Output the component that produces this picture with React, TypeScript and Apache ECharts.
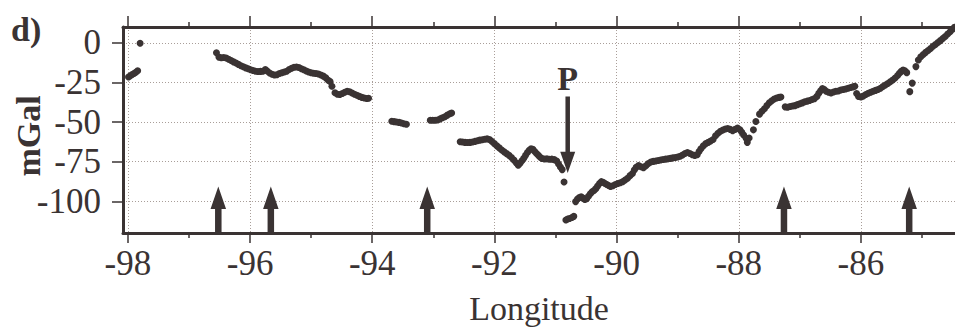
import React, { useEffect, useRef } from "react";
import * as echarts from "echarts";

// ---- tick values ----
const xMajorTicks = [-98, -96, -94, -92, -90, -88, -86];
const xMinorTicks = [-97, -95, -93, -91, -89, -87, -85];
const yTicks = [0, -25, -50, -75, -100];

// ---- gravity anomaly profile [longitude, mGal] ----
const segWestEdge: [number, number][] = [
  [-97.99, -21.6], [-97.96, -20.8], [-97.93, -20.0], [-97.9, -19.4], [-97.87, -18.6], [-97.84, -17.6],
  [-97.8, -0.3],
];

const segKansas: [number, number][] = [
  [-96.55, -6.3], [-96.51, -9.0], [-96.47, -9.4], [-96.43, -9.2], [-96.39, -9.6], [-96.35, -10.3],
  [-96.31, -11.2], [-96.27, -12.0], [-96.23, -12.7], [-96.19, -13.6], [-96.15, -14.5], [-96.11, -15.1],
  [-96.07, -15.8], [-96.03, -16.4], [-95.99, -17.0], [-95.95, -17.4], [-95.91, -17.9], [-95.87, -18.1],
  [-95.83, -18.0], [-95.79, -17.9], [-95.75, -16.9], [-95.72, -17.8], [-95.68, -19.0], [-95.64, -19.8],
  [-95.6, -20.3], [-95.56, -20.1], [-95.52, -19.4], [-95.48, -18.9], [-95.44, -18.4], [-95.4, -17.9],
  [-95.36, -16.8], [-95.32, -16.0], [-95.28, -15.4], [-95.24, -15.2], [-95.2, -15.6], [-95.16, -16.3],
  [-95.12, -17.0], [-95.08, -17.8], [-95.04, -18.4], [-95.0, -18.9], [-94.96, -19.2], [-94.92, -19.4],
  [-94.88, -19.7], [-94.84, -20.3], [-94.8, -21.0], [-94.76, -22.1], [-94.72, -23.6], [-94.69, -24.4],
  [-94.66, -27.4], [-94.61, -31.5], [-94.57, -32.4], [-94.53, -32.6], [-94.49, -32.0], [-94.45, -31.2],
  [-94.41, -30.6], [-94.37, -30.9], [-94.33, -31.7], [-94.29, -32.4], [-94.25, -33.1], [-94.21, -33.8],
  [-94.17, -34.4], [-94.13, -34.8], [-94.09, -35.1], [-94.06, -35.0],
];

const segMissouri: [number, number][] = [
  [-93.68, -49.5], [-93.64, -49.7], [-93.6, -49.9], [-93.56, -50.2], [-93.52, -50.6], [-93.48, -51.0],
  [-93.44, -51.4],
  [-93.05, -48.8], [-93.01, -48.8], [-92.97, -48.9], [-92.93, -48.7], [-92.89, -48.0], [-92.85, -47.3],
  [-92.81, -46.6], [-92.77, -45.6], [-92.73, -44.8], [-92.7, -44.3],
];

const segTrough: [number, number][] = [
  [-92.56, -62.4], [-92.52, -62.6], [-92.48, -62.8], [-92.44, -62.9], [-92.4, -62.8], [-92.36, -62.6],
  [-92.32, -62.2], [-92.28, -61.8], [-92.24, -61.4], [-92.2, -61.1], [-92.16, -60.8], [-92.12, -60.6],
  [-92.08, -61.0], [-92.04, -62.2], [-92.0, -63.6], [-91.96, -65.0], [-91.92, -66.3], [-91.88, -67.6],
  [-91.84, -68.8], [-91.8, -69.9], [-91.76, -71.0], [-91.72, -72.4], [-91.68, -74.0], [-91.64, -75.8],
  [-91.61, -77.2], [-91.58, -76.0], [-91.55, -74.4], [-91.52, -72.8], [-91.49, -71.0], [-91.46, -69.2],
  [-91.43, -67.8], [-91.4, -66.8], [-91.37, -67.2], [-91.34, -68.6], [-91.31, -69.8], [-91.28, -71.0],
  [-91.25, -72.2], [-91.22, -73.0], [-91.18, -73.3], [-91.14, -73.2], [-91.1, -73.5], [-91.06, -73.4],
  [-91.02, -73.7], [-90.98, -74.6], [-90.95, -76.4], [-90.92, -78.3], [-90.89, -80.0],
  [-90.86, -87.8],
  [-90.83, -111.8], [-90.8, -111.2], [-90.77, -110.8], [-90.73, -110.2], [-90.7, -109.5],
];

const segIllinois: [number, number][] = [
  [-90.67, -100.2], [-90.64, -98.6], [-90.61, -97.6], [-90.58, -97.2], [-90.55, -98.0], [-90.52, -98.8],
  [-90.49, -98.4], [-90.46, -96.8], [-90.43, -95.2], [-90.4, -94.0], [-90.37, -93.2], [-90.34, -92.0],
  [-90.31, -90.4], [-90.28, -88.8], [-90.25, -87.6], [-90.22, -88.0], [-90.19, -88.8], [-90.16, -89.4],
  [-90.13, -90.0], [-90.1, -90.6], [-90.06, -90.2], [-90.02, -89.4], [-89.98, -88.8], [-89.94, -88.3],
  [-89.9, -87.6], [-89.86, -86.6], [-89.82, -85.4], [-89.78, -83.8], [-89.74, -82.4], [-89.71, -80.2],
  [-89.68, -78.6], [-89.64, -77.4], [-89.6, -78.2], [-89.56, -78.8], [-89.52, -77.6], [-89.48, -76.2],
  [-89.44, -75.2], [-89.4, -74.8], [-89.36, -74.6], [-89.32, -74.2], [-89.28, -73.9], [-89.24, -73.6],
  [-89.2, -73.4], [-89.16, -73.2], [-89.12, -72.9], [-89.08, -72.6], [-89.04, -72.3], [-89.0, -72.0],
  [-88.96, -71.6], [-88.92, -70.8], [-88.88, -69.8], [-88.84, -69.2], [-88.8, -69.8], [-88.76, -70.6],
  [-88.72, -71.0], [-88.68, -70.6], [-88.65, -68.6], [-88.62, -66.8], [-88.58, -65.0], [-88.54, -63.6],
  [-88.5, -62.8], [-88.46, -62.0], [-88.42, -61.0], [-88.38, -58.6], [-88.34, -57.0], [-88.3, -55.8],
  [-88.26, -55.0], [-88.22, -54.4], [-88.18, -54.0], [-88.14, -54.6], [-88.1, -55.4], [-88.06, -54.6],
  [-88.02, -53.8], [-87.98, -54.8], [-87.95, -56.4], [-87.92, -58.2], [-87.88, -60.2], [-87.86, -62.8],
  [-87.83, -60.0],
  [-87.76, -54.9], [-87.72, -49.6],
  [-87.66, -45.0], [-87.62, -43.2], [-87.58, -41.6], [-87.54, -39.6], [-87.5, -37.8], [-87.46, -36.6],
  [-87.42, -35.4], [-87.38, -34.8], [-87.34, -34.4], [-87.31, -34.2],
];

const segIndiana: [number, number][] = [
  [-87.24, -40.4], [-87.2, -40.6], [-87.16, -40.2], [-87.12, -39.9], [-87.08, -39.6], [-87.04, -39.0],
  [-87.0, -38.4], [-86.96, -37.9], [-86.92, -37.2], [-86.88, -36.8], [-86.84, -36.4], [-86.8, -35.8],
  [-86.76, -35.2], [-86.72, -33.8], [-86.69, -31.8], [-86.66, -30.2], [-86.63, -28.8], [-86.6, -29.4],
  [-86.57, -30.6], [-86.53, -31.2], [-86.49, -31.6], [-86.45, -31.0], [-86.41, -30.6], [-86.37, -30.4],
  [-86.33, -29.8], [-86.29, -29.4], [-86.25, -29.1], [-86.21, -28.7], [-86.17, -28.2], [-86.13, -27.8],
  [-86.1, -27.4], [-86.07, -32.0], [-86.04, -33.8], [-86.0, -34.2], [-85.96, -33.6], [-85.92, -32.6],
  [-85.88, -31.8], [-85.84, -31.2], [-85.8, -30.6], [-85.76, -30.0], [-85.72, -29.4], [-85.68, -28.6],
  [-85.64, -27.6], [-85.6, -26.6], [-85.56, -25.6], [-85.52, -24.6], [-85.48, -23.4], [-85.44, -22.2],
  [-85.4, -20.6], [-85.37, -19.2], [-85.34, -18.0], [-85.31, -17.2], [-85.28, -17.6], [-85.25, -18.8],
  [-85.2, -30.8], [-85.16, -25.4], [-85.1, -15.0],
];

const segOhio: [number, number][] = [
  [-85.06, -10.8], [-85.02, -8.8], [-84.98, -7.4], [-84.94, -6.0], [-84.9, -4.8], [-84.86, -3.6],
  [-84.82, -2.2], [-84.78, -1.0], [-84.74, 0.2], [-84.7, 1.4], [-84.66, 2.8], [-84.62, 4.0],
  [-84.58, 5.6], [-84.54, 7.0], [-84.5, 8.6], [-84.47, 9.8],
];

// ---- arrows: [longitude, tip mGal, head-base mGal, tail mGal] ----
const upArrowLon = [-96.52, -95.66, -93.1, -87.26, -85.21];
const upArrowTip = -90.7;
const upArrowHead = -104.9;
const upArrowTail = -120;
const pArrow: [number, number, number, number] = [-90.8, -82.2, -68.8, -33.9];
const pArrowLabel = "P";

const X_MIN = -98.08;
const X_MAX = -84.46;
const Y_MIN = -120;
const Y_MAX = 10;

const INK = "#3a3333";
const GRID = "#a99e99";
const FONT = "Liberation Serif";

function arrowRenderer(shaft: number, head: number, label?: string) {
  return (params: any, api: any) => {
    const lon = api.value(0);
    const pTip = api.coord([lon, api.value(1)]);
    const pHead = api.coord([lon, api.value(2)]);
    const pTail = api.coord([lon, api.value(3)]);
    const x = pTip[0];
    const s = shaft / 2;
    const h = head / 2;
    const poly = {
      type: "polygon",
      shape: {
        points: [
          [x - s, pTail[1]],
          [x - s, pHead[1]],
          [x - h, pHead[1]],
          [x, pTip[1]],
          [x + h, pHead[1]],
          [x + s, pHead[1]],
          [x + s, pTail[1]],
        ],
      },
      style: { fill: INK },
    };
    if (!label) return poly;
    return {
      type: "group",
      children: [
        poly,
        {
          type: "text",
          x: x,
          y: pTail[1] - 18,
          style: {
            text: label,
            fill: INK,
            font: `bold 34px "${FONT}"`,
            align: "center",
            verticalAlign: "middle",
          },
        },
      ],
    };
  };
}

export default function App() {
  const ref = useRef<HTMLDivElement>(null);
  useEffect(() => {
    document.body.style.margin = "0";
    const chart = echarts.init(ref.current!, null, { renderer: "svg" });
    const tickStyle = { color: INK, width: 1.5 };
    const allPoints = [
      ...segWestEdge,
      ...segKansas,
      ...segMissouri,
      ...segTrough,
      ...segIllinois,
      ...segIndiana,
      ...segOhio,
    ];
    const option: any = {
      animation: false,
      backgroundColor: "#ffffff",
      textStyle: { fontFamily: FONT },
      grid: {
        left: 123,
        top: 27,
        right: 0,
        bottom: 98,
        containLabel: false,
        outerBoundsMode: "none",
      },
      graphic: [
        {
          type: "text",
          left: 11,
          top: 12,
          style: { text: "d)", fill: INK, font: `bold 34px "${FONT}"` },
        },
        {
          type: "text",
          x: 28,
          y: 136,
          rotation: Math.PI / 2,
          style: {
            text: "mGal",
            fill: INK,
            font: `bold 34px "${FONT}"`,
            align: "center",
            verticalAlign: "middle",
          },
        },
      ],
      xAxis: [
        {
          type: "value",
          position: "bottom",
          min: X_MIN,
          max: X_MAX,
          axisLine: { show: true, onZero: false, lineStyle: { color: INK, width: 3 } },
          axisTick: { show: true, customValues: xMajorTicks, length: 10, lineStyle: tickStyle },
          axisLabel: {
            show: true,
            customValues: xMajorTicks,
            fontSize: 35,
            fontFamily: FONT,
            color: INK,
            margin: 13,
          },
          splitLine: { show: true, lineStyle: { color: GRID, width: 1, type: [1, 2] } },
          name: "Longitude",
          nameLocation: "middle",
          nameGap: 58,
          nameTextStyle: { fontSize: 34, fontFamily: FONT, color: INK },
        },
        {
          type: "value",
          position: "bottom",
          min: X_MIN,
          max: X_MAX,
          axisLine: { show: false, onZero: false },
          axisTick: { show: true, customValues: xMinorTicks, length: 5, lineStyle: tickStyle },
          axisLabel: { show: false },
          splitLine: { show: false },
        },
        {
          type: "value",
          position: "top",
          min: X_MIN,
          max: X_MAX,
          axisLine: { show: true, onZero: false, lineStyle: { color: INK, width: 3 } },
          axisTick: { show: true, customValues: xMajorTicks, length: 11, lineStyle: tickStyle },
          axisLabel: { show: false },
          splitLine: { show: false },
        },
        {
          type: "value",
          position: "top",
          min: X_MIN,
          max: X_MAX,
          axisLine: { show: false, onZero: false },
          axisTick: { show: true, customValues: xMinorTicks, length: 5, lineStyle: tickStyle },
          axisLabel: { show: false },
          splitLine: { show: false },
        },
      ],
      yAxis: [
        {
          type: "value",
          position: "left",
          min: Y_MIN,
          max: Y_MAX,
          axisLine: { show: true, onZero: false, lineStyle: { color: INK, width: 3 } },
          axisTick: { show: true, customValues: yTicks, length: 11, lineStyle: tickStyle },
          axisLabel: {
            show: true,
            customValues: yTicks,
            fontSize: 35,
            fontFamily: FONT,
            color: INK,
            margin: 22,
          },
          splitLine: { show: true, lineStyle: { color: GRID, width: 1, type: [1, 2] } },
        },
      ],
      series: [
        {
          type: "scatter",
          xAxisIndex: 0,
          yAxisIndex: 0,
          data: allPoints,
          symbol: "circle",
          symbolSize: 7,
          itemStyle: { color: INK, opacity: 1 },
          clip: true,
          silent: true,
        },
        {
          type: "custom",
          xAxisIndex: 0,
          yAxisIndex: 0,
          data: upArrowLon.map((lon) => [lon, upArrowTip, upArrowHead, upArrowTail]),
          renderItem: arrowRenderer(6.5, 15.5),
          silent: true,
          z: 3,
        },
        {
          type: "custom",
          xAxisIndex: 0,
          yAxisIndex: 0,
          data: [pArrow],
          renderItem: arrowRenderer(4.5, 15, pArrowLabel),
          silent: true,
          z: 3,
        },
      ],
    };
    chart.setOption(option);
    return () => chart.dispose();
  }, []);
  return <div ref={ref} style={{ width: 955, height: 331 }} />;
}
